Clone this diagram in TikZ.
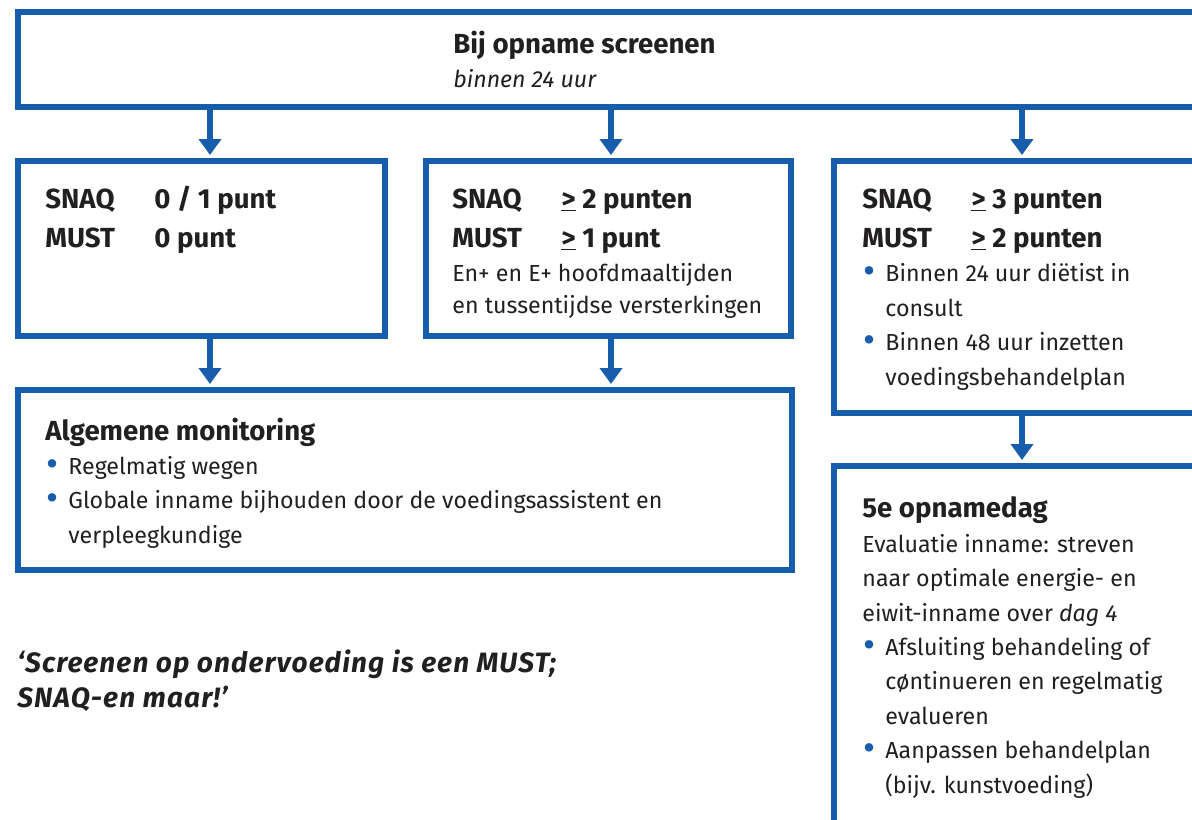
\documentclass[tikz,border=0pt]{standalone}
\usepackage{fontspec}
\setmainfont{Fira Sans}
\usepackage{graphicx}
\usepackage{tikz}
\usetikzlibrary{arrows.meta, positioning, calc}
\definecolor{nvblue}{RGB}{24, 93, 171}
\definecolor{nvtext}{RGB}{34, 31, 32}
\newcommand{\bul}{\makebox[11.5pt][l]{\hspace{0.3pt}\textcolor{nvblue}{\raisebox{-0.9pt}{\scalebox{1.6}{\textbullet}}}}}
\newcommand{\ind}{\hspace*{11.5pt}}
\newcommand{\gte}{\underline{>}}
\newcommand{\score}[2]{\makebox[54.5pt][l]{#1}#2}

\begin{document}
\begin{tikzpicture}[x=0.5pt, y=-0.5pt,
    box/.style={draw=nvblue, line width=2.6pt, fill=white, anchor=north west, inner sep=0pt, outer sep=0pt},
    txt/.style={anchor=base west, align=left, inner sep=0pt, text=nvtext, font=\fontsize{11.6pt}{17.2pt}\selectfont},
    head/.style={txt, font=\fontsize{13.8pt}{19.5pt}\selectfont\bfseries},
    flow/.style={draw=nvblue, line width=2.6pt, -{Triangle[width=11pt, length=8pt]}, shorten >=3pt}]
  \useasboundingbox (0,0) rectangle (1192,819);
  \clip (0,0) rectangle (1192,819);

  % boxes
  \node[box, minimum width=606pt, minimum height=47.5pt] (screen) at (18,12) {};
  \node[box, minimum width=183.5pt, minimum height=87.5pt] (lowrisk) at (18,161) {};
  \node[box, minimum width=182.5pt, minimum height=87.5pt] (midrisk) at (426,161) {};
  \node[box, minimum width=198pt, minimum height=126pt] (highrisk) at (834,161) {};
  \node[box, minimum width=387pt, minimum height=90pt] (monitor) at (18,390) {};
  \node[box, minimum width=198pt, minimum height=197pt] (dayfive) at (834,466) {};

  % arrow columns
  \coordinate (colA) at (210,0);
  \coordinate (colB) at (611,0);
  \coordinate (colC) at (1022,0);

  \draw[flow] (screen.south -| colA) -- (lowrisk.north -| colA);
  \draw[flow] (screen.south -| colB) -- (midrisk.north -| colB);
  \draw[flow] (screen.south -| colC) -- (highrisk.north -| colC);
  \draw[flow] (lowrisk.south -| colA) -- (monitor.north -| colA);
  \draw[flow] (midrisk.south -| colB) -- (monitor.north -| colB);
  \draw[flow] (highrisk.south -| colC) -- (dayfive.north -| colC);

  % top (multi-line nodes sit on their last baseline)
  \node[head] (screenhead) at (453,53) {Bij opname screenen};
  \node[txt, font=\fontsize{11.6pt}{17pt}\selectfont\itshape] (screensub) at (453,87) {binnen 24 uur};

  % scores
  \node[head] (lowscore) at (45,247) {\score{SNAQ}{0 / 1 punt}\\\score{MUST}{0 punt}};
  \node[head] (midscore) at (452,247) {\score{SNAQ}{\gte{} 2 punten}\\\score{MUST}{\gte{} 1 punt}};
  \node[head] (highscore) at (862,247) {\score{SNAQ}{\gte{} 3 punten}\\\score{MUST}{\gte{} 2 punten}};

  \node[txt, font=\fontsize{11.6pt}{15.7pt}\selectfont] (midtext) at (452,313) {En+ en E+ hoofdmaaltijden\\en tussentijdse versterkingen};
  \node[txt] (hightext) at (862,385) {\bul Binnen 24 uur diëtist in\\\ind consult\\\bul Binnen 48 uur inzetten\\\ind voedingsbehandelplan};

  % monitoring
  \node[head] (monhead) at (45,440) {Algemene monitoring};
  \node[txt] (montext) at (45,543) {\bul Regelmatig wegen\\\bul Globale inname bijhouden door de voedingsassistent en\\\ind verpleegkundige};

  % day five
  \node[head] (dayhead) at (862,517) {5e opnamedag};
  \node[txt] (daytext) at (862,793) {Evaluatie inname: streven\\naar optimale energie- en\\eiwit-inname over \textit{dag 4}\\\bul Afsluiting behandeling of\\\ind cøntinueren en regelmatig\\\ind evalueren\\\bul Aanpassen behandelplan\\\ind (bijv. kunstvoeding)};

  % quote
  \node[txt, font=\fontsize{14pt}{17.5pt}\selectfont\bfseries\itshape\addfontfeature{LetterSpace=4}] (quote) at (17,707) {‘Screenen op ondervoeding is een MUST;\\SNAQ-en maar!’};
\end{tikzpicture}
\end{document}
